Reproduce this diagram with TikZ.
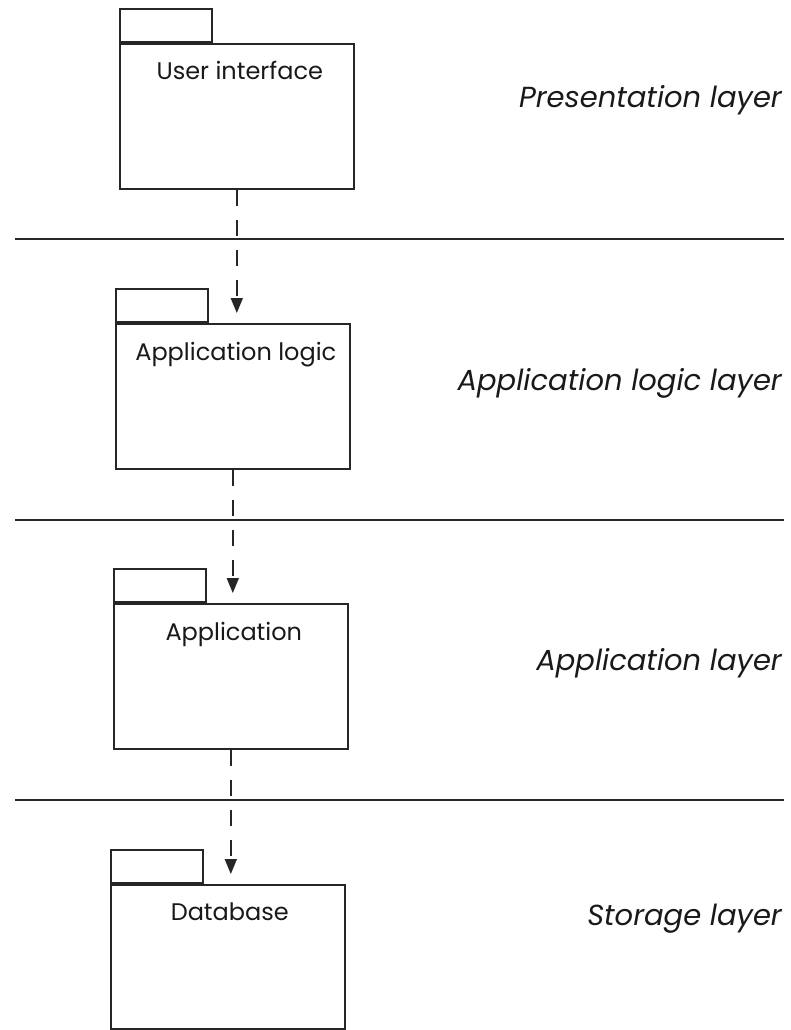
\documentclass[tikz,border=0pt]{standalone}
\usepackage{fontspec}
\setmainfont{Poppins}
\usetikzlibrary{arrows.meta,positioning}
\tikzset{
  pkg/.style={draw, line width=1.6pt, black!85, anchor=north west, minimum width=234pt, minimum height=145pt, inner sep=0pt},
  pkgtab/.style={draw, line width=1.6pt, black!85, anchor=south west, minimum width=92pt, minimum height=33pt, inner sep=0pt},
  pkgname/.style={anchor=base, inner sep=0pt, text=black!90, font=\fontsize{24}{28}\selectfont},
  layername/.style={anchor=base east, inner sep=0pt, text=black!90, font=\fontsize{29}{34}\selectfont\itshape},
  divider/.style={line width=1.6pt, black!85},
  dep/.style={line width=1.6pt, black!85, dash pattern=on 16pt off 14pt, -{Triangle[length=15pt,width=12pt]}, shorten >=10pt},
}
\begin{document}
\begin{tikzpicture}[x=1pt,y=-1pt]
\useasboundingbox (0,0) rectangle (791,1030);
% packages
\node[pkg] (ui) at (119,43) {}; \node[pkgtab] (uitab) at (ui.north west) {};
\node[pkg] (logic) at (115,323) {}; \node[pkgtab] (logictab) at (logic.north west) {};
\node[pkg] (app) at (113,603) {}; \node[pkgtab] (apptab) at (app.north west) {};
\node[pkg, minimum height=144pt] (db) at (110,884) {}; \node[pkgtab] (dbtab) at (db.north west) {};
\node[pkgname] (uiname) at ([xshift=3pt,yshift=-37pt]ui.north) {User interface};
\node[pkgname] (logicname) at ([xshift=3pt,yshift=-37pt]logic.north) {Application logic};
\node[pkgname] (appname) at ([xshift=3pt,yshift=-37pt]app.north) {Application};
\node[pkgname] (dbname) at ([xshift=2pt,yshift=-36pt]db.north) {Database};
% layers
\draw[divider] (15,239) -- (784,239);
\draw[divider] (15,520) -- (784,520);
\draw[divider] (15,800) -- (784,800);
\node[layername] (presentation) at (782,108) {Presentation layer};
\node[layername] (logiclayer) at (782,390) {Application logic layer};
\node[layername] (applayer) at (782,670) {Application layer};
\node[layername] (storage) at (782,925) {Storage layer};
% dependencies
\draw[dep] (ui.south) -- (ui.south |- logic.north);
\draw[dep] (logic.south) -- (logic.south |- app.north);
\draw[dep] (app.south) -- (app.south |- db.north);
\end{tikzpicture}
\end{document}
